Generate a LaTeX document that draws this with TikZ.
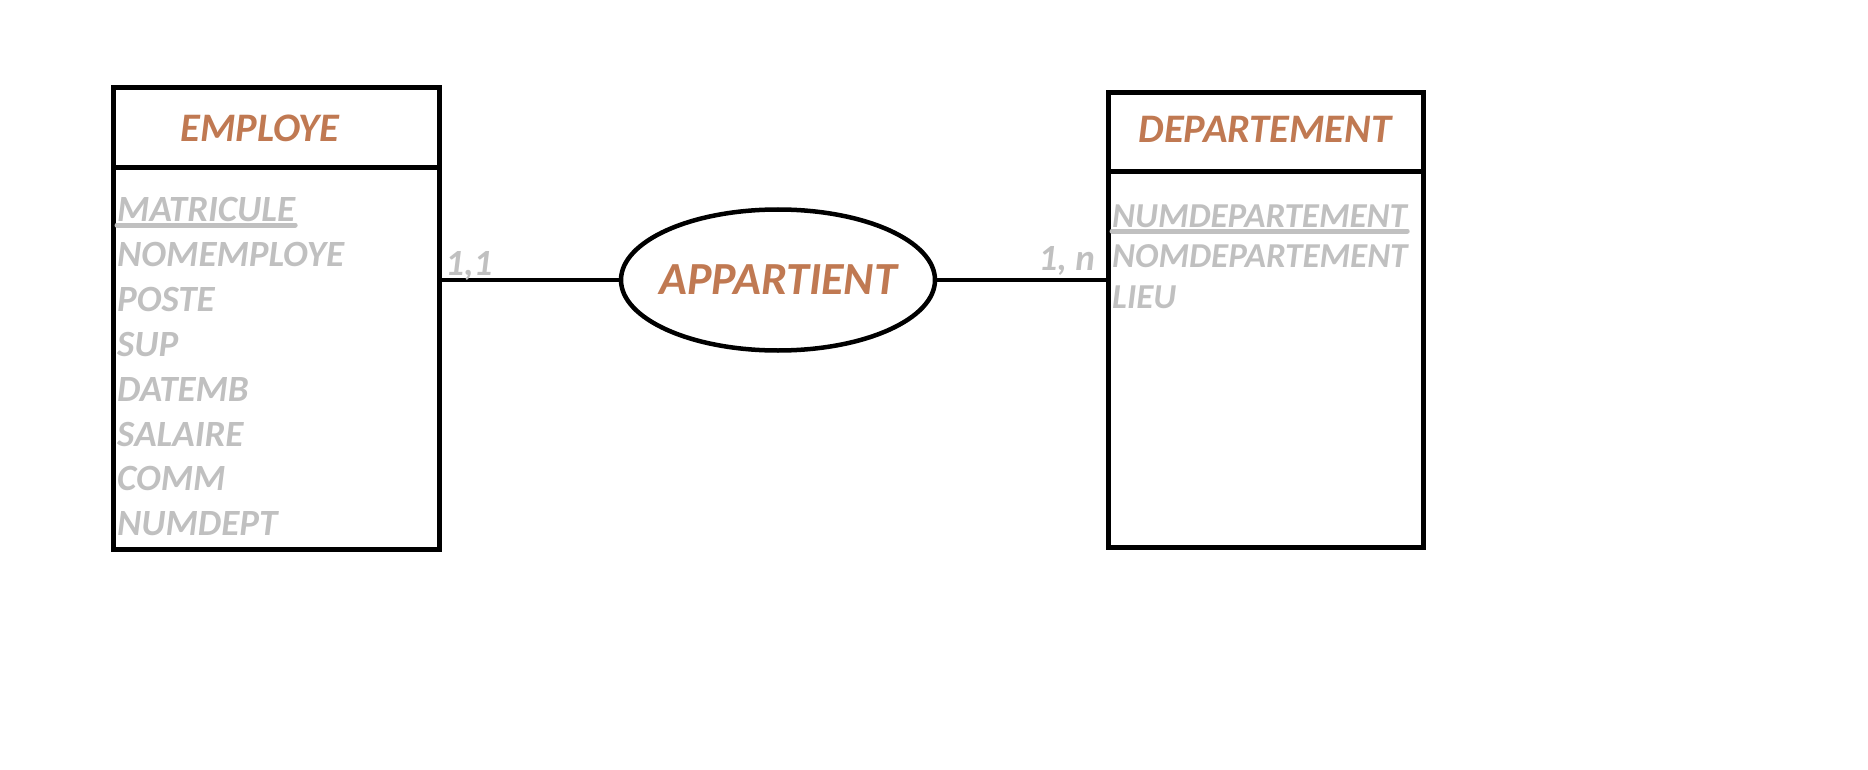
\documentclass[tikz,border=0pt]{standalone}
\usepackage{fontspec}
\setmainfont{Carlito}
\usetikzlibrary{positioning}
\usetikzlibrary{shapes.geometric}
\definecolor{titlebrown}{RGB}{192,121,82}
\definecolor{attrgray}{RGB}{192,192,192}
\tikzset{
    entity/.style={
        draw,
        line width=5pt,
        outer sep=0pt,
        inner sep=0pt
    },
    title/.style={
        font=\fontsize{40.5}{46}\selectfont\bfseries\itshape,
        text=titlebrown,
        anchor=base,
        inner sep=0pt
    },
    attr/.style={
        font=\fontsize{37}{44}\selectfont\bfseries\itshape,
        text=attrgray,
        anchor=base west,
        inner sep=0pt
    },
    keyline/.style={
        draw=attrgray,
        line width=5pt,
        line cap=round
    },
    relation/.style={
        ellipse,
        draw,
        line width=4.5pt,
        minimum width=314pt,
        minimum height=141pt,
        inner sep=-16pt,
        font=\fontsize{46}{52}\selectfont\bfseries\itshape,
        text=titlebrown
    },
    card/.style={
        font=\fontsize{37}{44}\selectfont\bfseries\itshape,
        text=attrgray,
        inner sep=0pt
    },
    link/.style={
        draw,
        line width=4.5pt
    }
}

\begin{document}
\begin{tikzpicture}[x=1pt,y=-1pt]
    \useasboundingbox (0,0) rectangle (1868,770);

    % entite EMPLOYE
    \node[entity, minimum width=326pt, minimum height=80pt] (emphead) at (276,128) {};
    \node[entity, minimum width=326pt, minimum height=381pt, below=0pt of emphead] (empbody) {};
    \node[title] (emptitle) at (260,142) {EMPLOYE};
    \foreach \attr [count=\i from 0] in {MATRICULE,NOMEMPLOYE,POSTE,SUP,DATEMB,SALAIRE,COMM,NUMDEPT}
        \node[attr] (emp-\i) at (117,222+44.8*\i) {\attr};
    \draw[keyline] ([yshift=-3pt]emp-0.base west) -- ([yshift=-3pt]emp-0.base east);

    % entite DEPARTEMENT
    \node[entity, minimum width=315pt, minimum height=79pt] (dephead) at (1265.5,132.5) {};
    \node[entity, minimum width=315pt, minimum height=375pt, below=0pt of dephead] (depbody) {};
    \node[title] (deptitle) at (1265,143) {DEPARTEMENT};
    \foreach \attr [count=\i from 0] in {NUMDEPARTEMENT,NOMDEPARTEMENT,LIEU}
        \node[attr, font=\fontsize{35}{42}\selectfont\bfseries\itshape] (dep-\i) at (1112,227+40.5*\i) {\attr};
    \draw[keyline] ([yshift=-4pt]dep-0.base west) -- ([yshift=-4pt]dep-0.base east);

    % association
    \node[relation] (appartient) at (778,280) {APPARTIENT};

    \draw[link] (appartient.west) -- (appartient.west -| empbody.east)
        node[card, anchor=base west, xshift=4pt, yshift=5pt] {1,1};
    \draw[link] (appartient.east) -- (appartient.east -| depbody.west)
        node[card, anchor=base east, xshift=-11pt, yshift=10pt] {1, n};
\end{tikzpicture}
\end{document}
